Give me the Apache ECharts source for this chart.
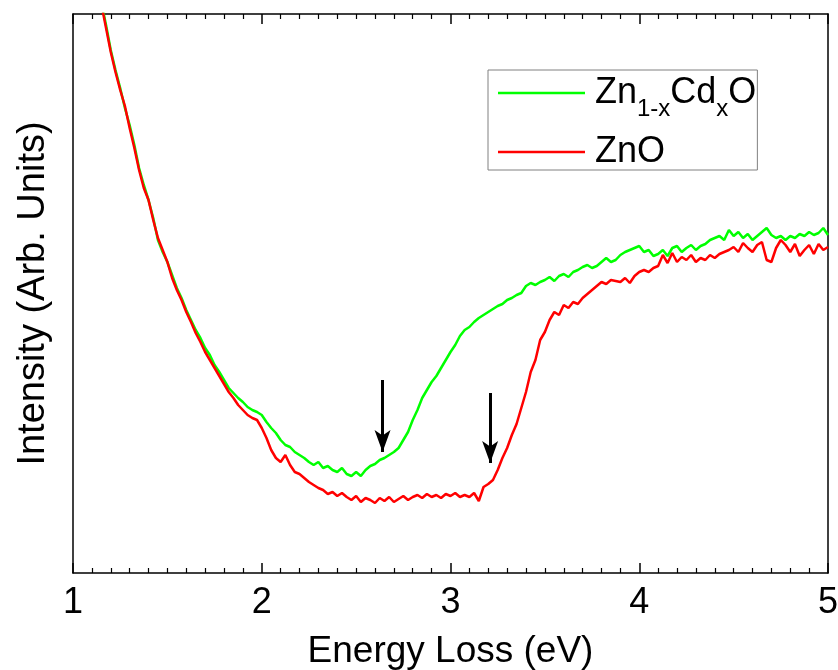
<!DOCTYPE html>
<html><head><meta charset="utf-8">
<script src="https://cdn.jsdelivr.net/npm/echarts@6/dist/echarts.min.js"></script>
<style>html,body{margin:0;padding:0;background:#fff}#c{width:838px;height:670px}</style>
</head><body><div id="c"></div>
<script>
const energy = [
1.150,1.175,1.200,1.225,1.250,1.275,1.300,1.325,
1.350,1.375,1.400,1.425,1.450,1.475,1.500,1.525,
1.550,1.575,1.600,1.625,1.650,1.675,1.700,1.725,
1.750,1.775,1.800,1.825,1.850,1.875,1.900,1.925,
1.950,1.975,2.000,2.025,2.050,2.075,2.100,2.125,
2.150,2.175,2.200,2.225,2.250,2.275,2.300,2.325,
2.350,2.375,2.400,2.425,2.450,2.475,2.500,2.525,
2.550,2.575,2.600,2.625,2.650,2.675,2.700,2.725,
2.750,2.775,2.800,2.825,2.850,2.875,2.900,2.925,
2.950,2.975,3.000,3.025,3.050,3.075,3.100,3.125,
3.150,3.175,3.200,3.225,3.250,3.275,3.300,3.325,
3.350,3.375,3.400,3.425,3.450,3.475,3.500,3.525,
3.550,3.575,3.600,3.625,3.650,3.675,3.700,3.725,
3.750,3.775,3.800,3.825,3.850,3.875,3.900,3.925,
3.950,3.975,4.000,4.025,4.050,4.075,4.100,4.125,
4.150,4.175,4.200,4.225,4.250,4.275,4.300,4.325,
4.350,4.375,4.400,4.425,4.450,4.475,4.500,4.525,
4.550,4.575,4.600,4.625,4.650,4.675,4.700,4.725,
4.750,4.775,4.800,4.825,4.850,4.875,4.900,4.925,
4.950,4.975,5.000];

const znCdO = [
571,548,523,503,485,465,448,428,
405,388,373,355,333,321,311,298,
285,275,263,253,243,235,225,218,
208,201,193,185,180,175,171,166,
163,161,158,151,145,140,133,128,
126,121,118,115,111,108,111,105,
107,103,101,105,99,97,101,97,
103,107,109,113,115,118,121,125,
133,141,153,163,175,183,191,197,
205,213,221,228,237,243,246,251,
255,258,261,264,267,269,273,275,
278,280,287,290,288,291,293,296,
292,297,299,296,301,303,306,308,
305,307,311,315,311,313,318,321,
323,325,327,321,323,317,319,323,
317,325,327,321,325,328,323,327,
329,333,335,337,333,343,337,341,
335,339,333,337,341,345,338,335,
337,333,337,335,339,337,341,338,
340,345,338];

const znO = [
569,545,521,501,483,467,445,425,
403,385,373,353,335,323,311,295,
283,273,261,251,240,231,221,213,
205,197,189,181,175,168,163,158,
155,153,145,135,123,115,111,118,
108,101,99,95,91,88,85,83,
79,81,77,80,76,73,77,71,
75,73,70,75,72,76,71,74,
77,73,76,78,75,79,76,78,
75,79,77,80,76,78,76,80,
72,86,89,93,103,115,125,138,
149,165,181,201,213,233,241,253,
261,258,268,265,271,269,275,279,
283,287,291,289,293,292,291,295,
290,297,301,303,301,305,307,318,
310,320,311,316,313,318,311,315,
313,318,315,319,321,323,326,321,
330,325,321,328,331,313,311,325,
333,328,321,329,317,323,328,319,
329,323,326];

const seriesNames = ['Zn1-xCdxO', 'ZnO'];
const xTickValues = [1, 2, 3, 4, 5];
const arrowX = [2.64, 3.21];
const arrowTop = [193, 180];
const arrowTip = [121, 110];

const FONT = "'Liberation Sans', Arial, Helvetica, sans-serif";
function pairs(xs, ys) { return xs.map((x, i) => [x, ys[i]]); }

const axisLineStyle = { color: '#000', width: 1.5 };
const chart = echarts.init(document.getElementById('c'), null, { renderer: 'canvas' });
chart.setOption({
  animation: false,
  backgroundColor: '#fff',
  grid: { left: 73, right: 10, top: 14, bottom: 97, containLabel: false, outerBoundsMode: 'none' },
  legend: {
    orient: 'vertical', left: 488, top: 70,
    padding: [5, 1, 0, 10], itemGap: 13,
    itemWidth: 87, itemHeight: 2.5, icon: 'rect',
    borderColor: '#808080', borderWidth: 1,
    selectedMode: false,
    data: seriesNames,
    formatter: function (name) {
      if (name === seriesNames[0]) return '{f|Zn}{s|1-x}{a|Cd}{s|x}{a|O}';
      return '{f|' + name + '}';
    },
    textStyle: {
      color: '#000', fontFamily: FONT,
      rich: {
        f: { fontSize: 36, lineHeight: 28, color: '#000', fontFamily: FONT, padding: [0, 0, 0, 5] },
        a: { fontSize: 36, lineHeight: 28, color: '#000', fontFamily: FONT },
        s: { fontSize: 24, lineHeight: 24, color: '#000', fontFamily: FONT, padding: [16, 0, -16, 0] }
      }
    }
  },
  xAxis: [{
    type: 'value', position: 'bottom', min: 1, max: 5, interval: 1,
    axisLine: { show: true, onZero: false, lineStyle: axisLineStyle },
    axisTick: { show: true, inside: true, length: 10, lineStyle: axisLineStyle },
    minorTick: { show: true, splitNumber: 10, length: 5, lineStyle: { color: '#000', width: 1.2 } },
    splitLine: { show: false },
    axisLabel: { show: true, fontSize: 36, color: '#000', fontFamily: FONT, margin: 12,
      showMinLabel: true, showMaxLabel: true,
      formatter: v => (xTickValues.indexOf(v) >= 0 ? String(v) : '') },
    name: 'Energy Loss (eV)', nameLocation: 'middle', nameGap: 60,
    nameTextStyle: { fontSize: 37, color: '#000', fontFamily: FONT }
  }, {
    type: 'value', position: 'top', min: 1, max: 5, interval: 1,
    axisLine: { show: true, onZero: false, lineStyle: axisLineStyle },
    axisTick: { show: true, inside: true, length: 10, lineStyle: axisLineStyle },
    minorTick: { show: true, splitNumber: 10, length: 5, lineStyle: { color: '#000', width: 1.2 } },
    splitLine: { show: false },
    axisLabel: { show: false }
  }],
  yAxis: [{
    type: 'value', position: 'left', min: 0, max: 559,
    axisLine: { show: true, onZero: false, lineStyle: axisLineStyle },
    axisTick: { show: false }, axisLabel: { show: false }, splitLine: { show: false },
    name: 'Intensity (Arb. Units)', nameLocation: 'middle', nameGap: 20,
    nameTextStyle: { fontSize: 38, color: '#000', fontFamily: FONT }
  }, {
    type: 'value', position: 'right', min: 0, max: 559,
    axisLine: { show: true, onZero: false, lineStyle: axisLineStyle },
    axisTick: { show: false }, axisLabel: { show: false }, splitLine: { show: false }
  }],
  series: [{
    name: seriesNames[0], type: 'line', data: pairs(energy, znCdO),
    symbol: 'none', showSymbol: false, clip: true,
    lineStyle: { color: '#00ff00', width: 2.5 }, itemStyle: { color: '#00ff00' },
    z: 2,
    markLine: {
      silent: true, animation: false,
      symbol: ['none', 'arrow'], symbolSize: [12, 22],
      label: { show: false },
      lineStyle: { color: '#000', width: 3, type: 'solid' },
      emphasis: { disabled: true },
      data: arrowX.map((x, i) => [{ coord: [x, arrowTop[i]] }, { coord: [x, arrowTip[i]] }])
    }
  }, {
    name: seriesNames[1], type: 'line', data: pairs(energy, znO),
    symbol: 'none', showSymbol: false, clip: true,
    lineStyle: { color: '#ff0000', width: 2.5 }, itemStyle: { color: '#ff0000' },
    z: 3
  }]
});
</script></body></html>
